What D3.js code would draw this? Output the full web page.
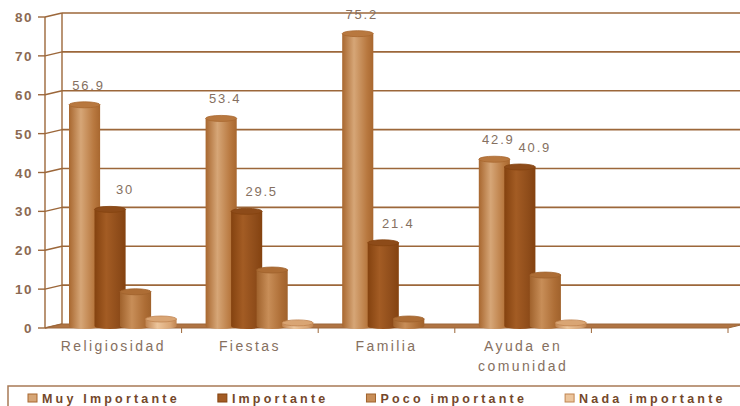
<!DOCTYPE html>
<html>
<head>
<meta charset="utf-8">
<script src="https://cdn.jsdelivr.net/npm/d3@7"></script>
<style>
  body { margin:0; background:#fff; }
  svg { display:block; font-family: Arial, "Liberation Sans", sans-serif; }
</style>
</head>
<body>
<div id="chart"></div>
<script>
// data
let categories = ['Religiosidad', 'Fiestas', 'Familia', 'Ayuda en comunidad']
let series = ['Muy Importante', 'Importante', 'Poco importante', 'Nada importante']
let muyImportante = [56.9, 53.4, 75.2, 42.9]
let importante = [30, 29.5, 21.4, 40.9]
let pocoImportante = [8.8, 14.4, 1.8, 13.1]
let nadaImportante = [1.8, 0.8, 0, 0.8]
let yTicks = [0, 10, 20, 30, 40, 50, 60, 70, 80]
let labelled = ['Muy Importante', 'Importante']

let values = [muyImportante, importante, pocoImportante, nadaImportante]
// body colours: edge, light centre, top
let colours = [
  {edge:'#a8672f', mid:'#d6a677', top:'#b8783f'},
  {edge:'#84420f', mid:'#a35c24', top:'#8d4b19'},
  {edge:'#a0622c', mid:'#c88e58', top:'#ad6d35'},
  {edge:'#c08450', mid:'#ecc59c', top:'#d9a574'}
]
// labels sit a little right of their bar, more so for the second series
let labelShift = [4, 15]

const W = 740, H = 406
const dx = 17, dy = -4   // 3d depth of the plot

let svg = d3.select('#chart').append('svg')
  .attr('width', W).attr('height', H)

let defs = svg.append('defs')
colours.forEach(function(c, i){
  let g = defs.append('linearGradient').attr('id', 'grad' + i)
    .attr('x1', 0).attr('x2', 1).attr('y1', 0).attr('y2', 0)
  g.append('stop').attr('offset', '0%').attr('stop-color', c.edge)
  g.append('stop').attr('offset', '38%').attr('stop-color', c.mid)
  g.append('stop').attr('offset', '80%').attr('stop-color', c.top)
  g.append('stop').attr('offset', '100%').attr('stop-color', c.edge)
})

let y = d3.scaleLinear().domain([0, 80]).range([328, 17])
// four categories plus one empty slot on the right
let x0 = d3.scaleBand().domain(categories.concat([' '])).range([45, 728])
let x1 = d3.scaleBand().domain(series).range([24, 126])
let barW = x1.bandwidth() * 1.22

let lineCol = '#9c673a'

// gridlines on the back wall
svg.append('g').selectAll('line')
  .data(yTicks.slice(1))
  .enter().append('line')
  .attr('x1', 45 + dx).attr('x2', W + 5)
  .attr('y1', d => y(d) + dy).attr('y2', d => y(d) + dy)
  .attr('stroke', lineCol).attr('stroke-width', 1.6)

// back wall edge and front axis
svg.append('line').attr('x1', 45 + dx).attr('x2', 45 + dx)
  .attr('y1', y(0) + dy).attr('y2', y(80) + dy)
  .attr('stroke', lineCol).attr('stroke-width', 1.4)
svg.append('line').attr('x1', 45).attr('x2', 45)
  .attr('y1', y(0)).attr('y2', y(80))
  .attr('stroke', lineCol).attr('stroke-width', 1.4)

// ticks with their slanted link to the wall
let tk = svg.append('g').selectAll('g')
  .data(yTicks).enter().append('g')
tk.append('line').attr('x1', 38).attr('x2', 45)
  .attr('y1', d => y(d)).attr('y2', d => y(d))
  .attr('stroke', lineCol).attr('stroke-width', 1.4)
tk.append('line').attr('x1', 45).attr('x2', 45 + dx)
  .attr('y1', d => y(d)).attr('y2', d => y(d) + dy)
  .attr('stroke', lineCol).attr('stroke-width', 1.4)
tk.append('text')
  .attr('x', 33).attr('y', d => y(d) + 5)
  .attr('text-anchor', 'end')
  .attr('font-size', 13.5).attr('font-weight', 'bold')
  .attr('letter-spacing', 1.5)
  .attr('fill', '#8c6a52')
  .text(d => d)

// floor
let x0End = x0.range()[1]
svg.append('polygon')
  .attr('points', [[45, y(0)], [x0End, y(0)], [x0End + dx, y(0) + dy], [45 + dx, y(0) + dy]].join(' '))
  .attr('fill', '#b07443').attr('stroke', lineCol).attr('stroke-width', 1)

// category ticks
svg.append('g').selectAll('line')
  .data(categories.concat([' ']))
  .enter().append('line')
  .attr('x1', d => x0(d) + x0.bandwidth()).attr('x2', d => x0(d) + x0.bandwidth())
  .attr('y1', y(0)).attr('y2', y(0) + 5)
  .attr('stroke', lineCol).attr('stroke-width', 1)

// cylinders
let floorY = y(0) + dy / 2
let ry = 3
series.forEach(function(s, si){
  let grp = svg.append('g')
  values[si].forEach(function(v, ci){
    if (v <= 0) return
    let bx = x0(categories[ci]) + x1(s)
    let top = y(v) + dy / 2
    grp.append('path')
      .attr('d', 'M' + bx + ',' + top + ' L' + bx + ',' + floorY +
        ' A' + barW / 2 + ',' + ry + ' 0 0 0 ' + (bx + barW) + ',' + floorY +
        ' L' + (bx + barW) + ',' + top + ' Z')
      .attr('fill', 'url(#grad' + si + ')')
    grp.append('ellipse')
      .attr('cx', bx + barW / 2).attr('cy', top)
      .attr('rx', barW / 2).attr('ry', ry)
      .attr('fill', colours[si].top)
      .attr('stroke', colours[si].edge).attr('stroke-width', 0.8)
  })
})

// value labels
series.forEach(function(s, si){
  if (labelled.indexOf(s) < 0) return
  svg.append('g').selectAll('text')
    .data(values[si]).enter().append('text')
    .attr('x', (d, ci) => x0(categories[ci]) + x1(s) + barW / 2 + labelShift[si])
    .attr('y', d => y(d) + dy / 2 - 15)
    .attr('text-anchor', 'middle')
    .attr('font-size', 13).attr('letter-spacing', 1.8)
    .attr('fill', '#857061')
    .text(d => d)
})

// category labels, wrapped like the original
svg.append('g').selectAll('text')
  .data(categories).enter().append('text')
  .attr('x', d => x0(d) + x0.bandwidth() / 2)
  .attr('y', 351)
  .attr('text-anchor', 'middle')
  .attr('font-size', 14).attr('letter-spacing', 2.4)
  .attr('fill', '#86705f')
  .each(function(d){
    let words = d == 'Ayuda en comunidad' ? ['Ayuda en', 'comunidad'] : [d]
    let t = d3.select(this)
    words.forEach(function(w, i){
      t.append('tspan').attr('x', t.attr('x')).attr('dy', i ? 20 : 0).text(w)
    })
  })

// legend
svg.append('rect')
  .attr('x', 8).attr('y', 386).attr('width', W).attr('height', 30)
  .attr('fill', 'none').attr('stroke', '#a87a55').attr('stroke-width', 1.5)

let lx = 28
series.forEach(function(s, si){
  svg.append('rect')
    .attr('x', lx).attr('y', 394).attr('width', 9).attr('height', 8)
    .attr('fill', colours[si].mid).attr('stroke', colours[si].edge).attr('stroke-width', 1)
  let t = svg.append('text')
    .attr('x', lx + 14).attr('y', 403)
    .attr('font-size', 12.5).attr('font-weight', 'bold')
    .attr('letter-spacing', 3.2)
    .attr('fill', '#74472a')
    .text(s)
  lx = lx + 14 + t.node().getComputedTextLength() + 38
})
</script>
</body>
</html>
